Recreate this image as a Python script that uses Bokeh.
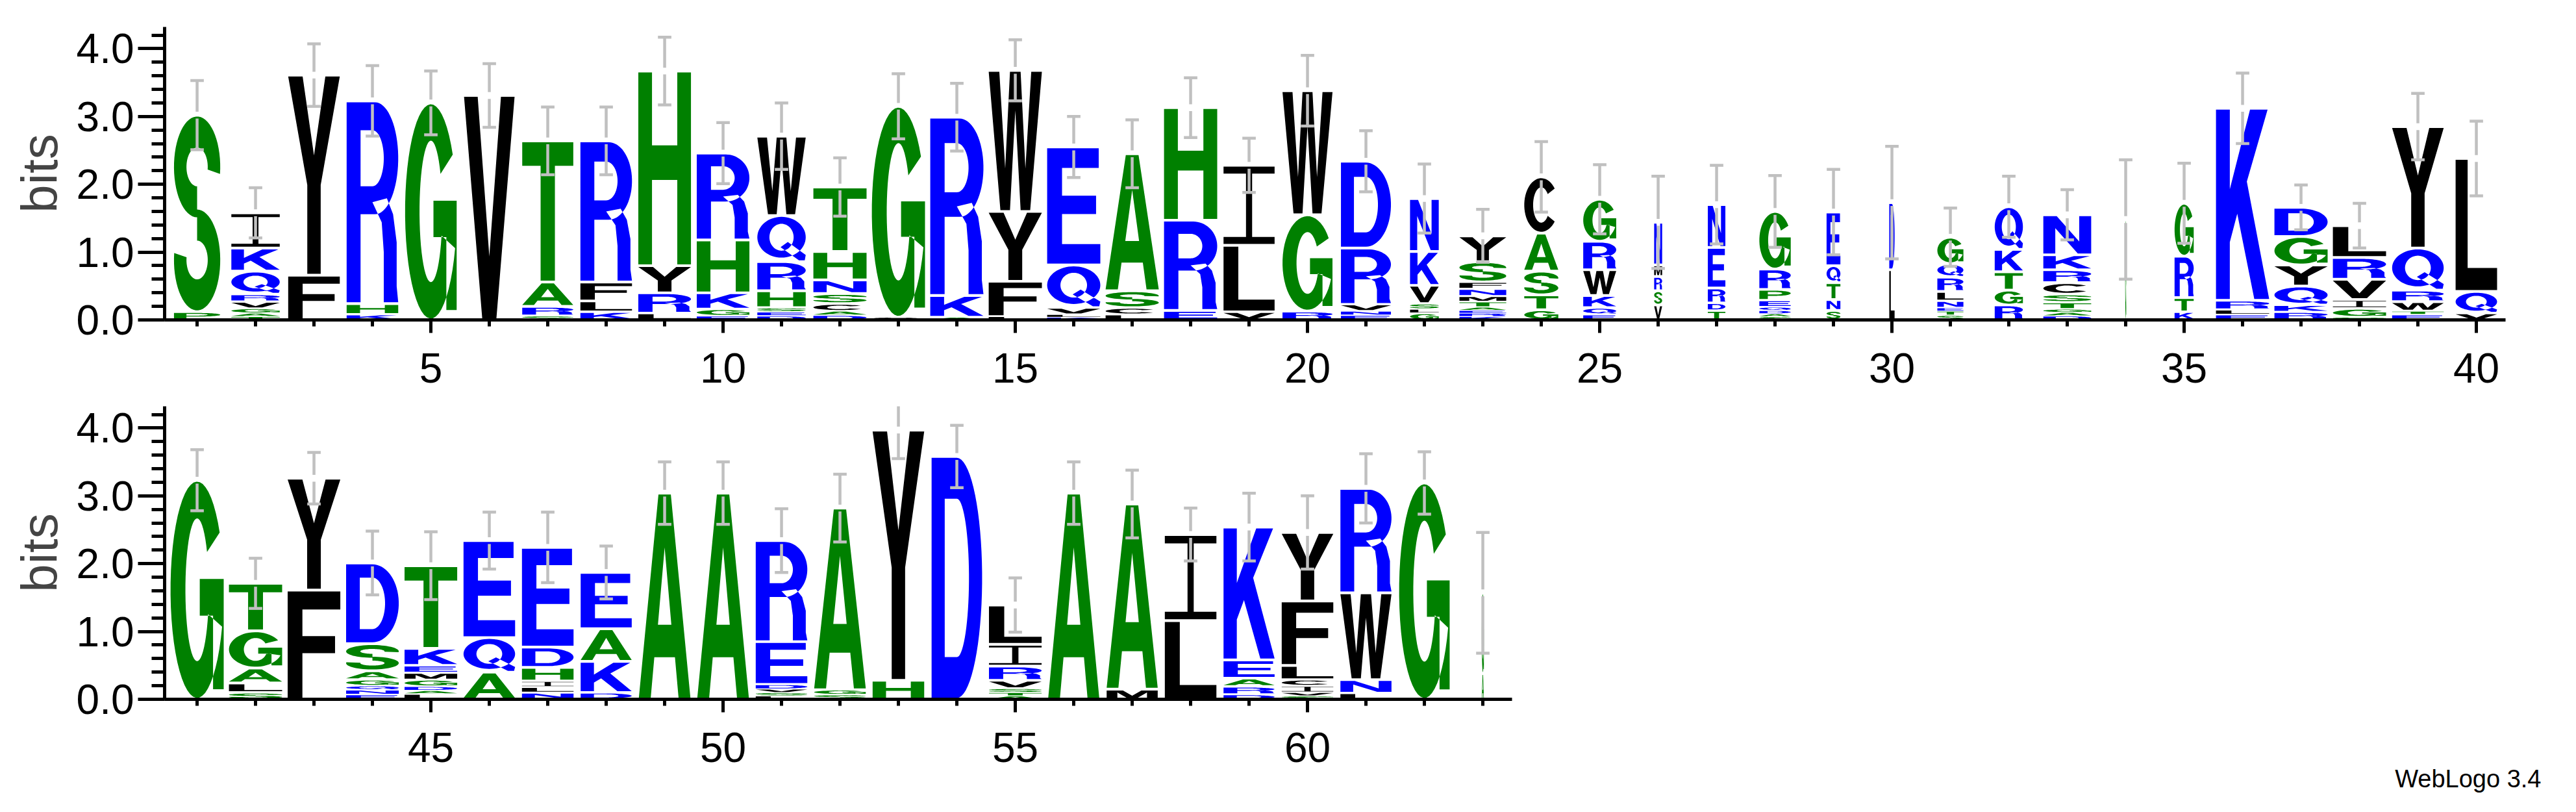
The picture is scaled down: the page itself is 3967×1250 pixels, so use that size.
import numpy as np
from bokeh.plotting import figure
from bokeh.models import Range1d, FixedTicker, PrintfTickFormatter, ColumnDataSource
from bokeh.layouts import column
from bokeh.embed import file_html
from bokeh.resources import INLINE

positions = list(range(1, 64))

# letters of each stack, bottom -> top
stack_letters = [
    "PS", "TAGVRQKI", "FY", "KHR", "G", "V", "SRAT", "KLFR", "LRYH", "EGKHR",
    "DESHRQW", "DACSNHT", "CG", "AKR", "LFYW", "KLVQE", "LCSA", "ERH", "VLI", "RGW",
    "ENVRD", "GLSVKN", "KREATMNFSY", "GTSAC", "EQKWRG", "VSRMN", "TDREN", "SADQEPRG", "SNTQE", "LD",
    "STENLRQG", "RGTKQ", "DAGTSCRKN", "G", "KTRG", "ELRK", "RKQYGD", "SGIVRL", "ETWRQY", "VQL",
    "G", "SLAGT", "FY", "ENQGASD", "LADGMEKT", "AQE", "NLIHDE", "DKAE", "A", "A",
    "LSVDER", "SGA", "HY", "D", "ATSVRIL", "A", "MA", "LI", "DRAEK", "SVICLFY",
    "LNWR", "G", "AG",
]

# information (bits) of each letter, same order
stack_bits = [
    [0.12, 2.90], [0.05, 0.05, 0.07, 0.10, 0.11, 0.34, 0.34, 0.52], [0.66, 2.95], [0.08, 0.16, 2.99],
    [3.20], [3.31], [0.06, 0.14, 0.36, 2.08], [0.12, 0.16, 0.28, 2.08], [0.10, 0.30, 0.40, 2.87],
    [0.06, 0.10, 0.24, 0.78, 1.28],
    [0.06, 0.06, 0.06, 0.25, 0.43, 0.68, 1.17], [0.07, 0.06, 0.11, 0.15, 0.20, 0.42, 0.95], [0.04, 3.11],
    [0.04, 0.32, 2.63], [0.05, 0.52, 1.03, 2.08], [0.04, 0.04, 0.10, 0.63, 1.74], [0.08, 0.10, 0.25, 2.02],
    [0.14, 1.33, 1.66], [0.12, 0.98, 1.18], [0.13, 1.42, 1.83],
    [0.07, 0.06, 0.10, 0.83, 1.28], [0.10, 0.06, 0.08, 0.27, 0.50, 0.78],
    [0.05, 0.05, 0.04, 0.05, 0.08, 0.08, 0.11, 0.10, 0.30, 0.38], [0.15, 0.22, 0.35, 0.56, 0.83],
    [0.08, 0.10, 0.18, 0.38, 0.42, 0.62], [0.22, 0.21, 0.21, 0.17, 0.63], [0.14, 0.11, 0.22, 0.60, 0.63],
    [0.05, 0.04, 0.05, 0.05, 0.10, 0.16, 0.30, 0.85], [0.14, 0.16, 0.25, 0.25, 0.79], [0.74, 0.99],
    [0.07, 0.06, 0.05, 0.10, 0.14, 0.21, 0.20, 0.39], [0.22, 0.22, 0.27, 0.33, 0.63],
    [0.06, 0.05, 0.05, 0.10, 0.12, 0.17, 0.19, 0.22, 0.59], [1.48], [0.12, 0.21, 0.61, 0.78],
    [0.08, 0.07, 0.14, 2.83], [0.12, 0.10, 0.28, 0.31, 0.42, 0.43], [0.04, 0.13, 0.13, 0.30, 0.32, 0.47],
    [0.08, 0.05, 0.14, 0.17, 0.62, 1.79], [0.10, 0.32, 1.96],
    [3.23], [0.10, 0.14, 0.22, 0.55, 0.70], [1.61, 1.65], [0.07, 0.07, 0.06, 0.09, 0.13, 0.40, 1.19],
    [0.08, 0.05, 0.06, 0.10, 0.10, 0.11, 0.25, 1.22], [0.40, 0.51, 1.43], [0.10, 0.08, 0.09, 0.20, 0.30, 1.47],
    [0.10, 0.46, 0.48, 0.83], [3.04], [3.04],
    [0.05, 0.05, 0.05, 0.07, 0.63, 1.49], [0.07, 0.07, 2.68], [0.28, 3.69], [3.58],
    [0.05, 0.05, 0.06, 0.12, 0.21, 0.32, 0.58], [3.04], [0.15, 2.73], [1.16, 1.27],
    [0.07, 0.12, 0.12, 0.27, 1.96], [0.05, 0.05, 0.10, 0.09, 0.21, 0.95, 1.01],
    [0.09, 0.20, 1.28, 1.54], [3.19], [0.38, 1.19],
]

# relative stack width (fraction of non-gap residues)
stack_width = [
    0.87, 0.91, 0.97, 0.97, 0.97, 0.95, 0.96, 0.97, 0.99, 0.99,
    0.91, 1.00, 1.00, 1.00, 1.00, 1.00, 1.00, 1.00, 0.96, 0.94,
    0.94, 0.54, 0.88, 0.64, 0.62, 0.15, 0.33, 0.59, 0.26, 0.10,
    0.49, 0.53, 0.90, 0.02, 0.36, 1.00, 1.00, 1.00, 0.97, 0.78,
    1.00, 1.00, 0.99, 0.99, 0.99, 0.97, 0.97, 0.96, 0.97, 0.97,
    0.97, 0.97, 0.97, 0.95, 0.99, 0.96, 0.96, 0.97, 0.96, 0.97,
    0.96, 0.95, 0.04,
]

# half length of the error bar at the top of each stack (bits)
error_bits = [
    0.51, 0.37, 0.46, 0.52, 0.47, 0.47, 0.50, 0.50, 0.50, 0.45,
    0.49, 0.43, 0.48, 0.50, 0.45, 0.45, 0.50, 0.44, 0.40, 0.52,
    0.45, 0.51, 0.39, 0.52, 0.51, 0.68, 0.58, 0.53, 0.63, 0.83,
    0.43, 0.45, 0.37, 0.88, 0.59, 0.52, 0.33, 0.33, 0.49, 0.55,
    0.45, 0.37, 0.38, 0.47, 0.50, 0.42, 0.52, 0.39, 0.46, 0.46,
    0.47, 0.50, 0.42, 0.46, 0.40, 0.46, 0.50, 0.39, 0.50, 0.54,
    0.51, 0.46, 0.89,
]

top_positions = list(range(1, 41))
bottom_positions = list(range(41, 64))
y_major_ticks = [0, 1, 2, 3, 4]
y_minor_ticks = [0.0, 0.2, 0.4, 0.6, 0.8, 1.0, 1.2, 1.4, 1.6, 1.8, 2.0, 2.2,
                 2.4, 2.6, 2.8, 3.0, 3.2, 3.4, 3.6, 3.8, 4.0, 4.2]
x_major_top = [5, 10, 15, 20, 25, 30, 35, 40]
x_major_bottom = [45, 50, 55, 60]
Y_MAX = 4.32  # log2(20)
FINEPRINT = "WebLogo 3.4"

# ---------------- styling ----------------
FONT = "Liberation Sans"
GREEN, BLUE, BLACK = "#008000", "#0000ff", "#000000"
ERR_COLOR = "#c0c0c0"
FULL_W = 0.91
color_of = {}
for c in "RKDENQ":
    color_of[c] = BLUE
for c in "SGHTAP":
    color_of[c] = GREEN
for c in "YVMCLFIW":
    color_of[c] = BLACK


# ---------------- letter outlines in a unit box ----------------
def arcpts(cx, cy, rx, ry, a0, a1, n=36):
    t = np.radians(np.linspace(a0, a1, n))
    return [(cx + rx * np.cos(a), cy + ry * np.sin(a)) for a in t]


def ellipse(cx, cy, rx, ry, n=64):
    t = np.linspace(0, 2 * np.pi, n, endpoint=False)
    return [(cx + rx * np.cos(a), cy + ry * np.sin(a)) for a in t]


def ring_sector(cx, cy, rxo, ryo, rxi, ryi, a0, a1, n=48):
    t = np.radians(np.linspace(a0, a1, n))
    outer = [(cx + rxo * np.cos(a), cy + ryo * np.sin(a)) for a in t]
    inner = [(cx + rxi * np.cos(a), cy + ryi * np.sin(a)) for a in t[::-1]]
    return outer + inner


SHAPES = {
    "A": [[[(0, 0), (0.23, 0), (0.3, 0.2), (0.7, 0.2), (0.77, 0), (1, 0), (0.62, 1), (0.38, 1)],
           [(0.37, 0.36), (0.63, 0.36), (0.5, 0.74)]]],
    "C": [[ring_sector(0.5, 0.5, 0.5, 0.5, 0.24, 0.33, 38, 322)]],
    "D": [[[(0, 0), (0.5, 0)] + arcpts(0.5, 0.5, 0.5, 0.5, -90, 90) + [(0, 1)],
           [(0.26, 0.17), (0.5, 0.17)] + arcpts(0.5, 0.5, 0.24, 0.33, -90, 90) + [(0.26, 0.83)]]],
    "E": [[[(0, 0), (1, 0), (1, 0.17), (0.28, 0.17), (0.28, 0.43), (0.92, 0.43), (0.92, 0.59),
            (0.28, 0.59), (0.28, 0.83), (0.97, 0.83), (0.97, 1), (0, 1)]]],
    "F": [[[(0, 0), (0.28, 0), (0.28, 0.42), (0.9, 0.42), (0.9, 0.58), (0.28, 0.58), (0.28, 0.83),
            (1, 0.83), (1, 1), (0, 1)]]],
    "G": [[ring_sector(0.5, 0.5, 0.5, 0.5, 0.22, 0.33, 32, 340)],
          [[(0.55, 0.38), (0.8, 0.38), (0.8, 0.04), (1, 0.04), (1, 0.55), (0.55, 0.55)]]],
    "H": [[[(0, 0), (0.26, 0), (0.26, 0.44), (0.74, 0.44), (0.74, 0), (1, 0), (1, 1), (0.74, 1),
            (0.74, 0.62), (0.26, 0.62), (0.26, 1), (0, 1)]]],
    "I": [[[(0, 0), (1, 0), (1, 0.09), (0.56, 0.09), (0.56, 0.91), (1, 0.91), (1, 1), (0, 1),
            (0, 0.91), (0.44, 0.91), (0.44, 0.09), (0, 0.09)]]],
    "K": [[[(0, 0), (0.26, 0), (0.26, 0.3), (0.4, 0.45), (0.72, 0), (1, 0), (0.58, 0.62),
            (0.97, 1), (0.64, 1), (0.26, 0.58), (0.26, 1), (0, 1)]]],
    "L": [[[(0, 0), (1, 0), (1, 0.17), (0.29, 0.17), (0.29, 1), (0, 1)]]],
    "M": [[[(0, 0), (0.21, 0), (0.21, 0.74), (0.4, 0), (0.6, 0), (0.79, 0.74), (0.79, 0), (1, 0),
            (1, 1), (0.68, 1), (0.5, 0.3), (0.32, 1), (0, 1)]]],
    "N": [[[(0, 0), (0.25, 0), (0.25, 0.68), (0.72, 0), (1, 0), (1, 1), (0.75, 1), (0.75, 0.32),
            (0.28, 1), (0, 1)]]],
    "P": [[[(0, 0), (0.27, 0), (0.27, 0.38), (0.55, 0.38)] + arcpts(0.55, 0.69, 0.45, 0.31, -90, 90)
           + [(0, 1)],
           [(0.27, 0.54), (0.52, 0.54)] + arcpts(0.52, 0.69, 0.21, 0.15, -90, 90) + [(0.27, 0.84)]]],
    "Q": [[ellipse(0.5, 0.53, 0.5, 0.47), ellipse(0.5, 0.53, 0.25, 0.31)],
          [[(0.48, 0.3), (0.63, 0.42), (1.0, 0.12), (0.98, 0.0), (0.86, 0.0)]]],
    "R": [[[(0, 0), (0.27, 0), (0.27, 0.44), (0.55, 0.44)] + arcpts(0.55, 0.72, 0.45, 0.28, -90, 90)
           + [(0, 1)],
           [(0.27, 0.58), (0.5, 0.58)] + arcpts(0.5, 0.72, 0.22, 0.14, -90, 90) + [(0.27, 0.86)]],
          [[(0.5, 0.5), (0.68, 0.4), (0.72, 0.25), (0.72, 0.0), (1.0, 0.0), (0.97, 0.08),
            (0.97, 0.3), (0.9, 0.44), (0.78, 0.52)]]],
    "S": [[ring_sector(0.5, 0.74, 0.5, 0.26, 0.23, 0.1, -8, 270)],
          [ring_sector(0.5, 0.26, 0.5, 0.26, 0.23, 0.1, 172, 450)]],
    "T": [[[(0.36, 0), (0.64, 0), (0.64, 0.83), (1, 0.83), (1, 1), (0, 1), (0, 0.83), (0.36, 0.83)]]],
    "V": [[[(0, 1), (0.36, 0), (0.64, 0), (1, 1), (0.73, 1), (0.5, 0.28), (0.27, 1)]]],
    "W": [[[(0, 1), (0.22, 0), (0.4, 0), (0.5, 0.72), (0.6, 0), (0.78, 0), (1, 1), (0.8, 1),
            (0.69, 0.3), (0.6, 1), (0.4, 1), (0.31, 0.3), (0.2, 1)]]],
    "Y": [[[(0, 1), (0.37, 0.45), (0.37, 0), (0.63, 0), (0.63, 0.45), (1, 1), (0.72, 1),
            (0.5, 0.6), (0.28, 1)]]],
}


def letter_source(pos_list):
    xs, ys, cols, names = [], [], [], []
    for pos in pos_list:
        i = pos - 1
        w = FULL_W * stack_width[i]
        base = 0.0
        for ch, h in zip(stack_letters[i], stack_bits[i]):
            pad = min(0.02, 0.15 * h)
            y0, hh = base + pad, h - 2 * pad
            polys = SHAPES[ch]
            xs.append([[[pos + (u - 0.5) * w for u, v in ring] for ring in poly] for poly in polys])
            ys.append([[[y0 + v * hh for u, v in ring] for ring in poly] for poly in polys])
            cols.append(color_of[ch])
            names.append(ch)
            base += h
    return ColumnDataSource(dict(xs=xs, ys=ys, color=cols, letter=names))


def error_sources(pos_list):
    tops = [sum(stack_bits[p - 1]) for p in pos_list]
    errs = [error_bits[p - 1] for p in pos_list]
    gap = 0.05
    bars = dict(x0=[], y0=[], x1=[], y1=[])
    caps = dict(x0=[], y0=[], x1=[], y1=[])
    for p, t, e in zip(pos_list, tops, errs):
        bars["x0"] += [p, p]
        bars["x1"] += [p, p]
        bars["y0"] += [t + gap, t - e]
        bars["y1"] += [t + e, t - gap]
        caps["x0"] += [p - 0.115, p - 0.115]
        caps["x1"] += [p + 0.115, p + 0.115]
        caps["y0"] += [t + e, t - e]
        caps["y1"] += [t + e, t - e]
    return ColumnDataSource(bars), ColumnDataSource(caps)


def make_panel(pos_list, x_major, height, mbt, mbb, axis_end, title=None):
    x0 = pos_list[0] - 0.556
    x1 = x0 + 3605 / 90.0
    kw = {}
    if title:
        kw = dict(title=title, title_location="below")
    p = figure(width=3940, height=height, x_range=Range1d(x0, x1), y_range=Range1d(0, Y_MAX),
               output_backend="svg", toolbar_location=None, tools="",
               min_border_left=253, min_border_right=82, min_border_top=mbt, min_border_bottom=mbb,
               background_fill_color="white", border_fill_color="white", **kw)
    p.outline_line_color = None
    p.xgrid.visible = False
    p.ygrid.visible = False

    src = letter_source(pos_list)
    p.multi_polygons(xs="xs", ys="ys", fill_color="color", line_color=None, source=src)
    bars, caps = error_sources(pos_list)
    p.segment(x0="x0", y0="y0", x1="x1", y1="y1", source=bars, line_color=ERR_COLOR,
              line_width=4.5, line_cap="butt")
    p.segment(x0="x0", y0="y0", x1="x1", y1="y1", source=caps, line_color=ERR_COLOR,
              line_width=4.5, line_cap="butt")

    xa = p.xaxis[0]
    xa.ticker = FixedTicker(ticks=x_major, minor_ticks=pos_list)
    xa.bounds = (x0, axis_end)
    xa.axis_line_width = 5
    xa.major_tick_line_width = 5
    xa.minor_tick_line_width = 5
    xa.major_tick_out = 20
    xa.major_tick_in = 0
    xa.minor_tick_out = 10
    xa.minor_tick_in = 0
    xa.major_label_standoff = 31
    xa.major_label_text_font = FONT
    xa.major_label_text_font_size = "64px"
    xa.major_label_text_color = "black"

    ya = p.yaxis[0]
    ya.ticker = FixedTicker(ticks=y_major_ticks, minor_ticks=y_minor_ticks)
    ya.formatter = PrintfTickFormatter(format="%.1f")
    ya.axis_line_width = 5
    ya.major_tick_line_width = 5
    ya.minor_tick_line_width = 5
    ya.major_tick_out = 41
    ya.major_tick_in = 0
    ya.minor_tick_out = 20
    ya.minor_tick_in = 0
    ya.major_label_standoff = 6
    ya.major_label_text_font = FONT
    ya.major_label_text_font_size = "64px"
    ya.major_label_text_color = "black"
    ya.axis_label = "bits"
    ya.axis_label_text_font = FONT
    ya.axis_label_text_font_size = "78px"
    ya.axis_label_text_font_style = "normal"
    ya.axis_label_standoff = 10

    if title:
        p.title.align = "right"
        p.title.offset = -55
        p.title.standoff = 0
        p.title.text_font = FONT
        p.title.text_font_size = "38px"
        p.title.text_font_style = "normal"
        p.title.text_color = "black"
    return p


p_top = make_panel(top_positions, x_major_top, height=625, mbt=41, mbb=133, axis_end=40.5)
p_bot = make_panel(bottom_positions, x_major_bottom, height=617, mbt=0, mbb=166, axis_end=63.5,
                   title=FINEPRINT)

layout = column(p_top, p_bot)
open("out.html", "w").write(file_html(layout, INLINE))
